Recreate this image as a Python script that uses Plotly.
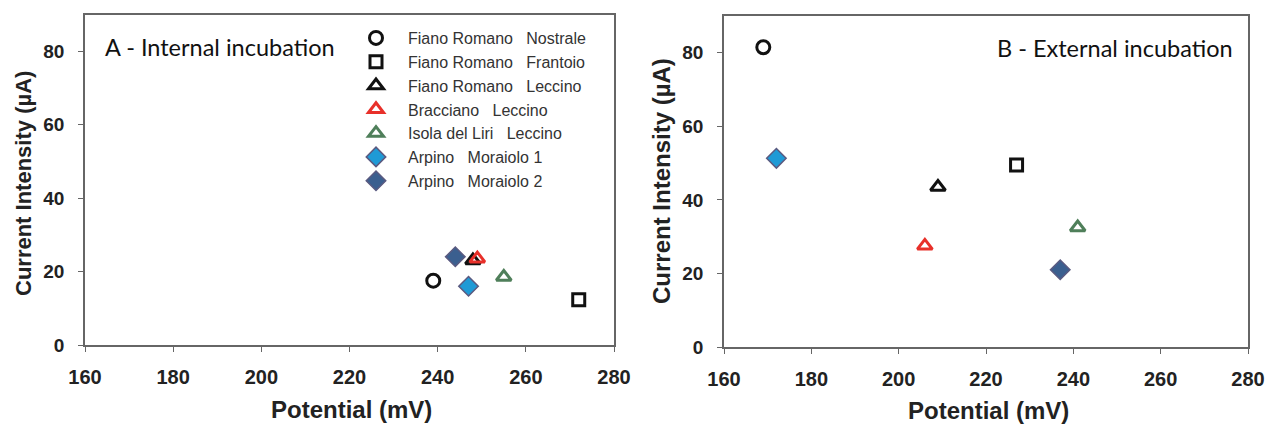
import plotly.graph_objects as go

names = ["Fiano Romano\u00a0\u00a0 Nostrale", "Fiano Romano\u00a0\u00a0 Frantoio", "Fiano Romano\u00a0\u00a0 Leccino",
         "Bracciano\u00a0\u00a0 Leccino", "Isola del Liri\u00a0\u00a0 Leccino", "Arpino\u00a0\u00a0 Moraiolo 1", "Arpino\u00a0\u00a0 Moraiolo 2"]
internal_x = [239, 272, 248, 249, 255, 247, 244]
internal_y = [17.5, 12.3, 23.0, 23.5, 18.5, 16.0, 24.0]
external_x = [169, 227, 209, 206, 241, 172, 237]
external_y = [81.5, 49.5, 43.5, 27.5, 32.5, 51.3, 21.0]

symbols = ["circle-open", "square-open", "triangle-up-open", "triangle-up-open", "triangle-up-open", "diamond", "diamond"]
fills = ["#111", "#111", "#111", "#e8302a", "#4f7f5a", "#1f9ad6", "#3b5f8f"]
lines = ["#111", "#111", "#111", "#e8302a", "#4f7f5a", "#5a5a80", "#5a5a80"]
sizes = [13, 12, 13, 13, 13, 15, 15]
lw = [3, 3, 3, 3, 3, 1.5, 1.5]

fig = go.Figure()
for i, n in enumerate(names):
    mk = dict(symbol=symbols[i], size=sizes[i], color=fills[i], line=dict(color=lines[i], width=lw[i]))
    fig.add_trace(go.Scatter(x=[internal_x[i]], y=[internal_y[i]], mode="markers", name=n, marker=mk,
                             xaxis="x", yaxis="y", showlegend=True))
for i, n in enumerate(names):
    mk = dict(symbol=symbols[i], size=sizes[i], color=fills[i], line=dict(color=lines[i], width=lw[i]))
    fig.add_trace(go.Scatter(x=[external_x[i]], y=[external_y[i]], mode="markers", name=n, marker=mk,
                             xaxis="x2", yaxis="y2", showlegend=False))

H = 424.0
W = 1269.0
axis_common = dict(showline=True, linecolor="#666", linewidth=1.5, mirror=True, ticks="outside",
                   ticklen=5, tickcolor="#666", showgrid=False, zeroline=False, automargin=False,
                   ticklabeloverflow="allow")
xtf = dict(family="Arial", size=20, color="#222", weight="bold")
ytf = dict(family="Arial", size=19, color="#222", weight="bold")

fig.update_layout(
    width=1269, height=424, margin=dict(l=0, r=0, t=0, b=0),
    plot_bgcolor="white", paper_bgcolor="white",
    xaxis=dict(domain=[85 / W, 614 / W], range=[160, 280], dtick=20, anchor="y", ticklabelstandoff=8, tickfont=xtf, **axis_common),
    yaxis=dict(domain=[(H - 345) / H, (H - 15) / H], range=[0, 89.8], tickvals=[0, 20, 40, 60, 80], anchor="x", ticklabelstandoff=10, tickfont=ytf, **axis_common),
    xaxis2=dict(domain=[724 / W, 1248 / W], range=[160, 280], dtick=20, anchor="y2", ticklabelstandoff=8, tickfont=xtf, **axis_common),
    yaxis2=dict(domain=[(H - 347) / H, (H - 16) / H], range=[0, 90.0], tickvals=[0, 20, 40, 60, 80], anchor="x2", ticklabelstandoff=10, tickfont=ytf, **axis_common),
    legend=dict(x=344 / W, y=(H - 21) / H, xanchor="left", yanchor="top", bgcolor="rgba(0,0,0,0)",
                font=dict(family="Arial", size=16, color="#333"), itemwidth=54, tracegroupgap=0),
    font=dict(family="Arial"),
)

ann = [
    dict(text="<b>Current Intensity (µA)</b>", x=23 / W, y=(H - 184) / H, textangle=-90, font=dict(family="Arial", size=22, color="#222")),
    dict(text="<b>Current Intensity (µA)</b>", x=661 / W, y=(H - 181) / H, textangle=-90, font=dict(family="Arial", size=24, color="#222")),
    dict(text="<b>Potential (mV)</b>", x=351 / W, y=(H - 409) / H, font=dict(family="Arial", size=24, color="#222")),
    dict(text="<b>Potential (mV)</b>", x=988 / W, y=(H - 410) / H, font=dict(family="Arial", size=24, color="#222")),
    dict(text="A - Internal incubation", x=103 / W, y=(H - 47) / H, xanchor="left", font=dict(family="Lato", size=23.5, color="#111")),
    dict(text="B - External incubation", x=1235 / W, y=(H - 48) / H, xanchor="right", font=dict(family="Lato", size=23.5, color="#111")),
]
for a in ann:
    a.update(xref="paper", yref="paper", showarrow=False)
    a.setdefault("xanchor", "center")
    a["yanchor"] = "middle"
fig.update_layout(annotations=ann)

fig.write_html("out.html", config={"displayModeBar": False},
               post_script="document.body.style.margin='0';document.body.style.overflow='hidden';")
